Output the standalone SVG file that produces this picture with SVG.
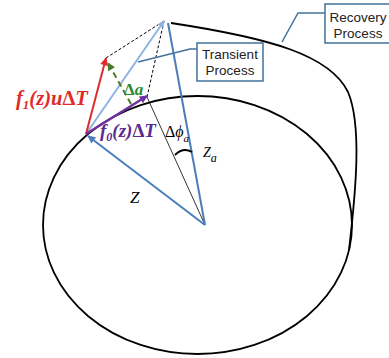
<svg xmlns="http://www.w3.org/2000/svg" width="389" height="358" viewBox="0 0 389 358">
<style>
.lbl{font-family:"Liberation Sans",Arial,sans-serif;font-size:13.5px;fill:#222;text-anchor:middle}
.box{fill:#fff;stroke:#41719c;stroke-width:1.5}
.ptr{fill:none;stroke:#41719c;stroke-width:1.5}
.math{font-family:"Liberation Serif","Times New Roman",serif;font-style:italic}
.dash{fill:none;stroke:#000;stroke-width:1;stroke-dasharray:3 2}
</style>
<defs>
<marker id="aRed" viewBox="0 0 10 10" refX="9" refY="5" markerWidth="9" markerHeight="8" orient="auto" markerUnits="userSpaceOnUse"><path d="M0,0 L10,5 L0,10 z" fill="#e02b2b"/></marker>
<marker id="aPur" viewBox="0 0 10 10" refX="9" refY="5" markerWidth="9" markerHeight="8" orient="auto" markerUnits="userSpaceOnUse"><path d="M0,0 L10,5 L0,10 z" fill="#7030a0"/></marker>
<marker id="aLb" viewBox="0 0 10 10" refX="9" refY="5" markerWidth="8" markerHeight="7" orient="auto" markerUnits="userSpaceOnUse"><path d="M0,0 L10,5 L0,10 z" fill="#8db3e2"/></marker>
<marker id="aBl" viewBox="0 0 10 10" refX="9" refY="5" markerWidth="9" markerHeight="8" orient="auto" markerUnits="userSpaceOnUse"><path d="M0,0 L10,5 L0,10 z" fill="#4a7ebb"/></marker>
<marker id="aGr" viewBox="0 0 10 10" refX="9" refY="5" markerWidth="9" markerHeight="8" orient="auto" markerUnits="userSpaceOnUse"><path d="M0,0 L10,5 L0,10 z" fill="#4e7a2a"/></marker>
</defs>
<rect width="389" height="358" fill="#fff"/>
<g id="orbit">
<ellipse cx="197.5" cy="225" rx="154.5" ry="129" fill="none" stroke="#000" stroke-width="1.8"/>
</g>
<g id="recovery-curve">
<path d="M171,23 C270,38 330,55 348,92 C362,125 356,190 349,250" fill="none" stroke="#000" stroke-width="1.8"/>
</g>
<g id="connectors">
<line x1="147" y1="97" x2="205" y2="225" stroke="#000" stroke-width="0.8"/>
<line class="dash" x1="106" y1="58" x2="164" y2="21"/>
<line class="dash" x1="164" y1="21" x2="147" y2="97"/>
<line x1="205" y1="225" x2="168" y2="23" stroke="#4a7ebb" stroke-width="2"/>
<line x1="205" y1="225" x2="88" y2="136" stroke="#4a7ebb" stroke-width="2" marker-end="url(#aBl)"/>
<line x1="86" y1="134" x2="164" y2="21" stroke="#8db3e2" stroke-width="2" marker-end="url(#aLb)"/>
<line x1="86" y1="134" x2="106" y2="58" stroke="#e02b2b" stroke-width="2" marker-end="url(#aRed)"/>
<line x1="86" y1="134" x2="147" y2="96" stroke="#7030a0" stroke-width="2.5" marker-end="url(#aPur)"/>
<line x1="131" y1="104" x2="108" y2="63" stroke="#4e7a2a" stroke-width="2" stroke-dasharray="6 4" marker-end="url(#aGr)"/>
<path d="M175,155 Q183,147 192,152" fill="none" stroke="#000" stroke-width="2"/>
<polyline class="ptr" points="138,62 190,49 197,49"/>
<polyline class="ptr" points="325,13 298,13 282,42"/>
</g>
<g id="transient">
<rect class="box" x="197" y="43" width="66" height="38"/>
<text class="lbl" x="230" y="59">Transient</text>
<text class="lbl" x="230" y="75">Process</text>
</g>
<g id="recovery">
<rect class="box" x="325" y="4" width="68" height="39"/>
<text class="lbl" x="358" y="22">Recovery</text>
<text class="lbl" x="358" y="38">Process</text>
</g>
<g id="labels">
<text class="math" x="16" y="105" font-size="20.5" font-weight="bold" fill="#e02b2b">f<tspan font-size="13" dy="4">1</tspan><tspan dy="-4">(z)u</tspan><tspan font-style="normal">Δ</tspan>T</text>
<text class="math" x="100" y="137" font-size="19" font-weight="bold" fill="#5b2b8f">f<tspan font-size="12" dy="4">0</tspan><tspan dy="-4">(z)</tspan><tspan font-style="normal">Δ</tspan>T</text>
<text class="math" x="124" y="95" font-size="17" font-weight="bold" fill="#2e8b2e"><tspan font-style="normal">Δ</tspan>a</text>
<text class="math" x="165" y="137" font-size="16" fill="#000"><tspan font-style="normal">Δ</tspan>ϕ<tspan font-size="11" dy="5">a</tspan></text>
<text class="math" x="203" y="157" font-size="14" fill="#000">Z<tspan font-size="12" dy="5">a</tspan></text>
<text class="math" x="130" y="203" font-size="17" fill="#000">Z</text>
</g>
</svg>
